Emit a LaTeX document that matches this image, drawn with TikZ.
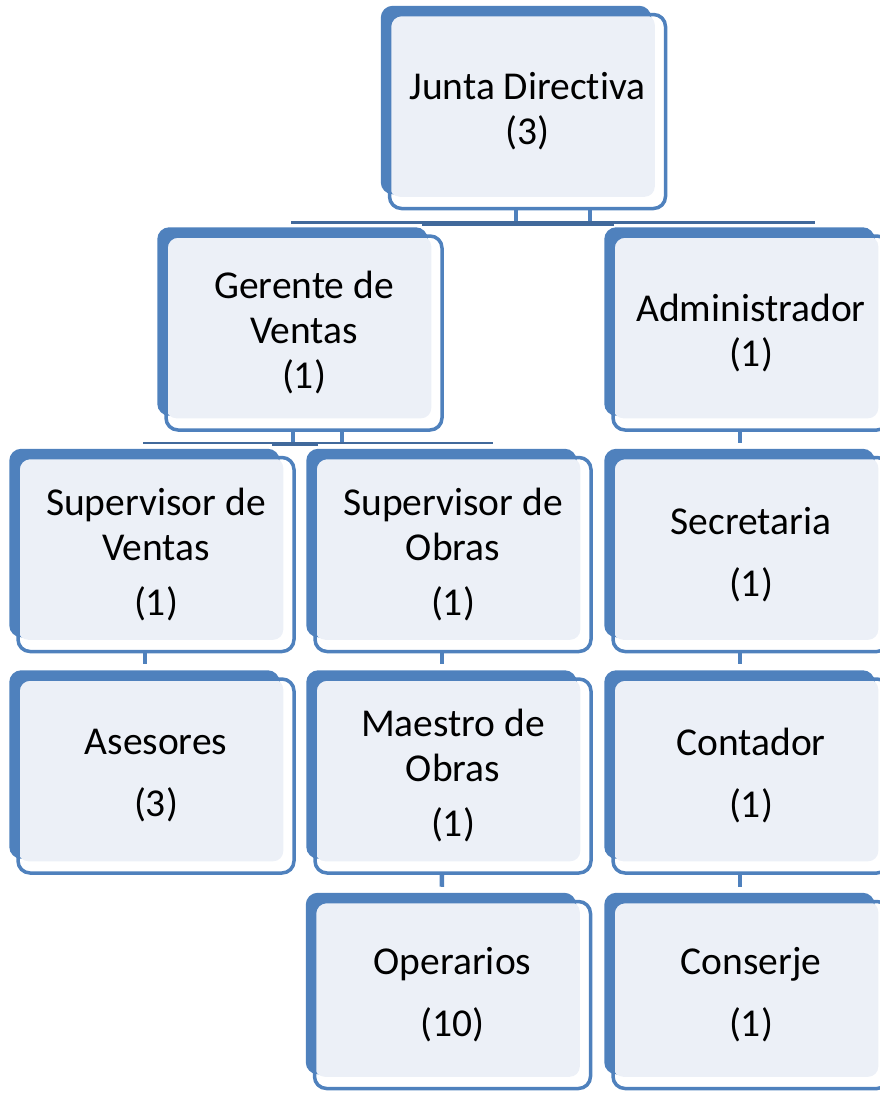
\documentclass[tikz,border=0pt]{standalone}
\usepackage{fontspec}
\setmainfont[Ligatures=NoCommon]{Carlito}
\usetikzlibrary{backgrounds}
\definecolor{boxblue}{HTML}{4F81BD}
\definecolor{boxfill}{HTML}{ECF0F7}
\definecolor{barblue}{HTML}{41699B}

\begin{document}
\begin{tikzpicture}
    [x=1pt,y=-1pt,
    post/.style={draw=boxblue,line width=3.5pt,rounded corners=12pt,
        minimum width=276pt,minimum height=194pt,inner sep=0pt,
        align=center,font=\fontsize{39.5}{45}\selectfont},
    low post/.style={post,minimum height=187pt},
    back/.style={fill=boxblue,rounded corners=12pt},
    face/.style={fill=boxfill,rounded corners=10pt},
    link/.style={boxblue,line width=4.5pt},
    bar/.style={barblue,line width=2.5pt},
    thick bar/.style={barblue,line width=4pt}]

\useasboundingbox (0,0) rectangle (879,1093);

%posts, one node per box
\node[post] (junta) at (527.5,111.5) {Junta Directiva\\(3)};
\node[post] (gerente) at (304,333) {Gerente de\\Ventas\\(1)};
\node[post] (admin) at (751,333) {Administrador\\(1)};
\node[post] (supv) at (156,554.5) {Supervisor de\\Ventas\\[10pt](1)};
\node[post] (supo) at (453,554.5) {Supervisor de\\Obras\\[10pt](1)};
\node[post] (secre) at (751,554.5) {Secretaria\\[17pt](1)};
\node[post] (asesores) at (156,776) {Asesores\\[17pt](3)};
\node[post] (maestro) at (453,776) {Maestro de\\Obras\\[10pt](1)};
\node[post] (contador) at (751,776) {Contador\\[17pt](1)};
\node[low post] (operarios) at (452.5,995) {Operarios\\[17pt](10)};
\node[low post] (conserje) at (751,995) {Conserje\\[17pt](1)};

%bars below the two upper posts
\coordinate (jbarL) at (291,222.5);
\coordinate (jbarR) at (815,222.5);
\coordinate (gbarL) at (143,443);
\coordinate (gbarR) at (493,443);
\draw[bar] (jbarL) -- (jbarR);
\draw[thick bar] ([yshift=-1pt]jbarL -| 422,0) -- ([yshift=-1pt]jbarR -| 614,0);
\draw[bar] (gbarL) -- (gbarR);
\draw[thick bar] ([yshift=-1pt]gbarL -| 272,0) -- ([yshift=-1pt]gbarR -| 318,0);

\begin{scope}[on background layer]
%stubs down to the bars
\draw[link] ([xshift=-11.5pt]junta.south) -- ([xshift=-11.5pt]junta.south |- jbarL);
\draw[link] ([xshift=62.5pt]junta.south) -- ([xshift=62.5pt]junta.south |- jbarL);
\draw[link] ([xshift=-11pt]gerente.south) -- ([xshift=-11pt]gerente.south |- gbarL);
\draw[link] ([xshift=38pt]gerente.south) -- ([xshift=38pt]gerente.south |- gbarL);

%straight links in the columns
\foreach \a/\b in {supv/asesores,supo/maestro,maestro/operarios,
                   admin/secre,secre/contador,contador/conserje}
    \draw[link,shorten >=13pt] ([xshift=-11pt]\a.south) -- ([xshift=-11pt]\b.north);

%blue back and light face of every post
\foreach \n in {junta,gerente,admin,supv,supo,secre,asesores,maestro,contador,operarios,conserje}{
    \fill[back] ([shift={(-7,-7)}]\n.north west) rectangle ([shift={(-16,-16)}]\n.south east);
    \fill[face] ([shift={(2,2)}]\n.north west) rectangle ([shift={(-12.5,-13.5)}]\n.south east);
}
\end{scope}

\end{tikzpicture}
\end{document}
